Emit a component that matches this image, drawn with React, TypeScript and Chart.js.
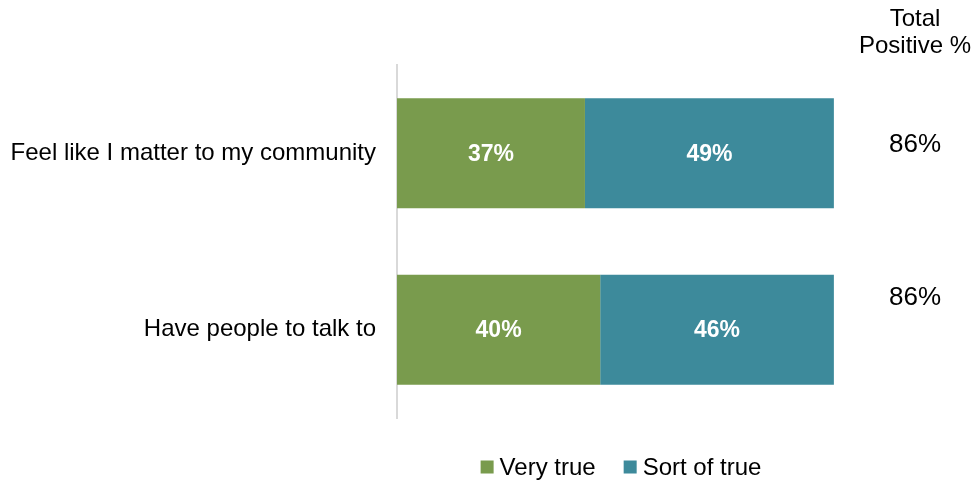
import React, { useEffect, useRef } from "react";
import { Chart, registerables } from "chart.js";

Chart.register(...registerables);

const categories = ["Feel like I matter to my community", "Have people to talk to"];
const veryTrue = [37, 40];
const sortOfTrue = [49, 46];
const totalPositive = [86, 86];
const seriesNames = ["Very true", "Sort of true"];
const seriesColors = ["#799b4d", "#3d8a9b"];
const totalHeader = ["Total", "Positive %"];

const FONT = "'Liberation Sans', Arial, sans-serif";

const overlayPlugin = {
  id: "overlay",
  afterDatasetsDraw(chart: any) {
    const ctx = chart.ctx;
    ctx.save();
    // value labels inside bars
    chart.data.datasets.forEach((ds: any, di: number) => {
      const meta = chart.getDatasetMeta(di);
      meta.data.forEach((bar: any, i: number) => {
        const v = ds.data[i];
        const cx = (bar.x + bar.base) / 2;
        ctx.fillStyle = "#ffffff";
        ctx.font = `bold 23px ${FONT}`;
        ctx.textAlign = "center";
        ctx.textBaseline = "middle";
        ctx.fillText(`${v}%`, cx, bar.y + 1);
      });
    });
    // total positive column
    const area = chart.chartArea;
    const cx = area.right + 10;
    ctx.fillStyle = "#000000";
    ctx.textAlign = "center";
    ctx.textBaseline = "middle";
    ctx.font = `24px ${FONT}`;
    ctx.fillText(totalHeader[0], cx, 19);
    ctx.fillText(totalHeader[1], cx, 46);
    const yScale = chart.scales.y;
    const offsets = [-8.5, -31.5];
    ctx.font = `26px ${FONT}`;
    totalPositive.forEach((t, i) => {
      const y = yScale.getPixelForValue(i) + offsets[i];
      ctx.fillText(`${t}%`, cx, y);
    });
    // legend
    ctx.font = `24px ${FONT}`;
    ctx.textAlign = "left";
    const box = 13;
    const gapBoxText = 6;
    const gapItems = 28;
    const widths = seriesNames.map((n) => box + gapBoxText + ctx.measureText(n).width);
    const total = widths.reduce((a, b) => a + b, 0) + gapItems * (seriesNames.length - 1);
    let x = 621 - total / 2;
    const ly = 467;
    seriesNames.forEach((n, i) => {
      ctx.fillStyle = seriesColors[i];
      ctx.fillRect(x, ly - box / 2, box, box);
      ctx.fillStyle = "#000000";
      ctx.fillText(n, x + box + gapBoxText, ly + 1);
      x += widths[i] + gapItems;
    });
    ctx.restore();
  },
};

export default function App() {
  const ref = useRef<HTMLCanvasElement>(null);
  useEffect(() => {
    if (!ref.current) return;
    const chart = new Chart(ref.current, {
      type: "bar",
      data: {
        labels: categories,
        datasets: [
          {
            label: seriesNames[0],
            data: veryTrue,
            backgroundColor: seriesColors[0],
            categoryPercentage: 1,
            barPercentage: 0.623,
          },
          {
            label: seriesNames[1],
            data: sortOfTrue,
            backgroundColor: seriesColors[1],
            categoryPercentage: 1,
            barPercentage: 0.623,
          },
        ],
      },
      options: {
        indexAxis: "y",
        responsive: false,
        animation: false,
        devicePixelRatio: 1,
        layout: { padding: { top: 65, bottom: 64, right: 68, left: 0 } },
        plugins: {
          legend: { display: false },
          tooltip: { enabled: false },
        },
        scales: {
          x: {
            stacked: true,
            min: 0,
            max: 100,
            display: false,
          },
          y: {
            stacked: true,
            afterFit: (s: any) => {
              s.width = 397;
            },
            grid: { display: true, color: "rgba(0,0,0,0)", drawTicks: false },
            border: { display: true, color: "#d9d9d9", width: 2 },
            ticks: {
              color: "#000000",
              font: { family: FONT, size: 24 },
              padding: 21,
            },
          },
        },
      },
      plugins: [overlayPlugin],
    } as any);
    return () => chart.destroy();
  }, []);
  return (
    <div style={{ position: "fixed", left: 0, top: 0, width: 973, height: 482, background: "#fff" }}>
      <canvas ref={ref} width={973} height={482} />
    </div>
  );
}
